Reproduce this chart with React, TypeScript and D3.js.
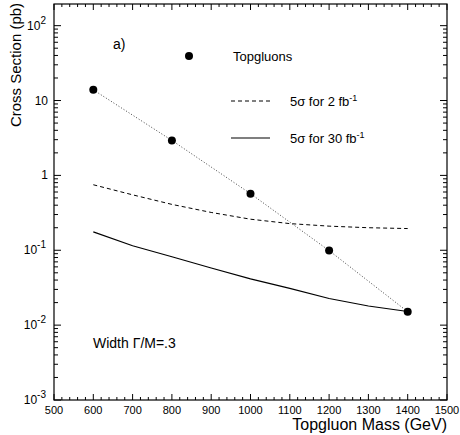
import React from "react";
import * as d3 from "d3";

const massPoints = [600, 800, 1000, 1200, 1400];
const topgluonXS = [13.9, 2.93, 0.57, 0.099, 0.0151];
const massGrid = [600, 700, 800, 900, 1000, 1100, 1200, 1300, 1400];
const reach2fb = [0.75, 0.55, 0.41, 0.32, 0.26, 0.227, 0.21, 0.2, 0.195];
const reach30fb = [0.176, 0.115, 0.082, 0.058, 0.0415, 0.031, 0.0227, 0.018, 0.0152];
const xTickLabels = [500, 600, 700, 800, 900, 1000, 1100, 1200, 1300, 1400, 1500];
const yDecades = [-3, -2, -1, 0, 1, 2];

const W = 460, H = 435;
const L = 54, R = 447, T = 4, B = 400;
const FONT = "'Liberation Sans', Arial, sans-serif";

export default function App() {
  const x = d3.scaleLinear().domain([500, 1500]).range([L, R]);
  const y = d3.scaleLog().domain([1e-3, Math.pow(10, 2 + 21.7 / 75)]).range([B, T]);

  const line = d3.line<[number, number]>().x(d => x(d[0])).y(d => y(d[1]));

  const xMinor: number[] = d3.range(500, 1501, 20);
  const yTicks: { v: number; major: boolean }[] = [];
  for (const dcd of yDecades) {
    for (let m = 1; m <= 9; m++) {
      const v = m * Math.pow(10, dcd);
      if (v <= y.domain()[1]) yTicks.push({ v, major: m === 1 });
    }
  }

  const yLabel = (dcd: number) => {
    if (dcd === 0) return <tspan>1</tspan>;
    if (dcd === 1) return <tspan>10</tspan>;
    return (
      <>
        <tspan>10</tspan>
        <tspan dy={-6} fontSize={10}>{dcd}</tspan>
      </>
    );
  };

  return (
    <svg width={W} height={H} style={{ position: "absolute", left: 0, top: 0, background: "#fff" }} fontFamily={FONT}>
      <rect x={0} y={0} width={W} height={H} fill="#fff" />
      {/* frame */}
      <rect x={L} y={T} width={R - L} height={B - T} fill="none" stroke="#000" strokeWidth={1.2} />
      {/* x ticks bottom & top */}
      {xMinor.map(v => {
        const major = v % 100 === 0;
        const len = major ? 6 : 3;
        return (
          <g key={"xt" + v}>
            <line x1={x(v)} x2={x(v)} y1={B} y2={B - len} stroke="#000" />
            <line x1={x(v)} x2={x(v)} y1={T} y2={T + len} stroke="#000" />
          </g>
        );
      })}
      {/* y ticks left & right */}
      {yTicks.map(t => {
        const len = t.major ? 7 : 4;
        return (
          <g key={"yt" + t.v}>
            <line x1={L} x2={L + len} y1={y(t.v)} y2={y(t.v)} stroke="#000" />
            <line x1={R} x2={R - len} y1={y(t.v)} y2={y(t.v)} stroke="#000" />
          </g>
        );
      })}
      {/* x tick labels */}
      {xTickLabels.map(v => (
        <text key={"xl" + v} x={x(v)} y={414} fontSize={11} textAnchor="middle" fill="#000">{v}</text>
      ))}
      {/* y tick labels */}
      {yDecades.map(dcd => (
        <text key={"yl" + dcd} x={dcd < 2 && dcd >= 0 ? 48 : 46} y={y(Math.pow(10, dcd)) + 4} fontSize={12} textAnchor="end" fill="#000">
          {yLabel(dcd)}
        </text>
      ))}
      {/* axis titles */}
      <text x={R} y={430} fontSize={16} textAnchor="end" fill="#000">Topgluon Mass (GeV)</text>
      <text transform={`translate(21,65) rotate(-90)`} fontSize={15} textAnchor="middle" fill="#000">Cross Section (pb)</text>

      {/* curves */}
      <path d={line(massGrid.map((m, i) => [m, reach2fb[i]]) as any) || ""} fill="none" stroke="#000" strokeWidth={1} strokeDasharray="4,3" />
      <path d={line(massGrid.map((m, i) => [m, reach30fb[i]]) as any) || ""} fill="none" stroke="#000" strokeWidth={1.2} />
      <path d={line(massPoints.map((m, i) => [m, topgluonXS[i]]) as any) || ""} fill="none" stroke="#444" strokeWidth={1} strokeDasharray="1,2" />
      {massPoints.map((m, i) => (
        <circle key={"pt" + m} cx={x(m)} cy={y(topgluonXS[i])} r={4} fill="#000" />
      ))}

      {/* annotations */}
      <text x={113} y={49} fontSize={14} fill="#000">a)</text>
      <text x={93} y={348} fontSize={14} fill="#000">Width Γ/M=.3</text>

      {/* legend */}
      <circle cx={189} cy={56} r={4} fill="#000" />
      <text x={233} y={61} fontSize={13} fill="#000">Topgluons</text>
      <line x1={231} x2={270} y1={101} y2={101} stroke="#000" strokeDasharray="4,3" />
      <text x={290} y={106} fontSize={13} fill="#000">
        <tspan>5σ for 2 fb</tspan><tspan dy={-5} fontSize={9}>-1</tspan>
      </text>
      <line x1={231} x2={270} y1={138} y2={138} stroke="#000" strokeWidth={1.2} />
      <text x={290} y={143} fontSize={13} fill="#000">
        <tspan>5σ for 30 fb</tspan><tspan dy={-5} fontSize={9}>-1</tspan>
      </text>
    </svg>
  );
}
